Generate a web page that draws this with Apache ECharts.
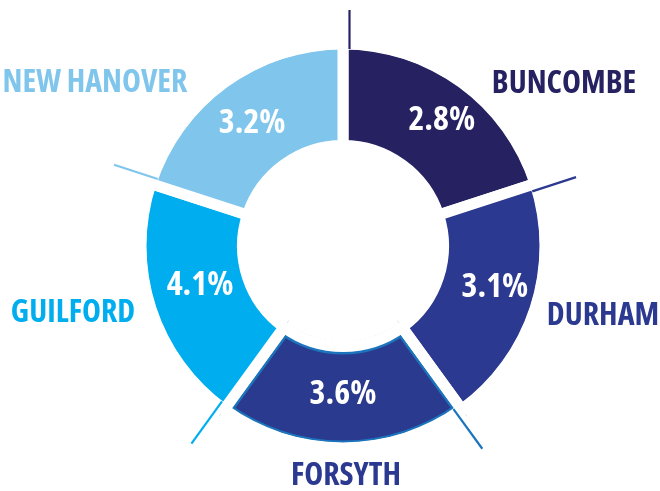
<!DOCTYPE html>
<html>
<head>
<meta charset="utf-8">
<script src="https://cdn.jsdelivr.net/npm/echarts@6/dist/echarts.min.js"></script>
<style>html,body{margin:0;padding:0;background:#fff}#c{width:660px;height:491px}</style>
</head>
<body>
<div id="c"></div>
<script>
// ---- data ----
const categories = ['BUNCOMBE', 'DURHAM', 'FORSYTH', 'GUILFORD', 'NEW HANOVER'];
const rates = [2.8, 3.1, 3.6, 4.1, 3.2];            // percent labels shown in the slices
const sliceShares = [1, 1, 1, 1, 1];                 // slices are drawn as equal sectors in the reference

// ---- styles ----
const sliceColors = ['#262262', '#2b3990', '#2a3a8f', '#00aeef', '#80c6ec'];
const nameColors  = ['#262262', '#2b3990', '#2b3990', '#00aeef', '#80c6ec'];
const lineColors  = ['#262262', '#2b3990', '#1c75bc', '#00aeef', '#80c6ec'];
const outlineColor = '#1c75bc';
const outlinedIndex = 2;
const FONT = "'Open Sans', 'Roboto', sans-serif";
const WEIGHT = 'bold condensed';   // font-stretch keyword passes through to the canvas font

const CENTER = [343, 246];
const R0 = 100.5, R1 = 202.5, GAP = 11;
const lineStart = 197, lineEnds = [236, 243, 246, 249, 243], lineOffset = 6.5;
const namePos = [[564, 84], [603, 316], [346, 476], [73, 313], [95, 83]];
const valueLabelOffsets = [[8, -1], [5, -6], [0, -6], [4, -8], [0, 2]];

const total = sliceShares.reduce((a, b) => a + b, 0);
const T = 'rgba(0,0,0,0)';

const outlineData = categories.map((c, i) => ({
  name: c, value: sliceShares[i],
  itemStyle: i === outlinedIndex
    ? { color: sliceColors[i], borderColor: outlineColor, borderWidth: GAP + 5, borderJoin: 'miter' }
    : { color: T, borderWidth: 0 }
}));

const mainData = categories.map((c, i) => ({
  name: c, value: sliceShares[i],
  itemStyle: { color: i === outlinedIndex ? T : sliceColors[i] },
  label: { offset: valueLabelOffsets[i] }
}));

const whiteData = categories.map((c, i) => ({
  name: c, value: sliceShares[i],
  itemStyle: { color: '#ffffff', borderWidth: 0 },
  label: { color: nameColors[i] }
}));

const lineSeries = [];
let acc = 0;
categories.forEach((c, i) => {
  const boundary = acc / total * 360;
  acc += sliceShares[i];
  const ang = r => boundary + Math.asin(lineOffset / r) * 180 / Math.PI;
  lineSeries.push({
    type: 'line', coordinateSystem: 'polar', z: 10, silent: true,
    symbol: 'none', animation: false,
    lineStyle: { color: lineColors[i], width: 2.2 },
    data: [[lineStart, ang(lineStart)], [lineEnds[i], ang(lineEnds[i])]]
  });
});

const common = {
  type: 'pie', center: CENTER, startAngle: 90, clockwise: true,
  silent: true, animation: false, avoidLabelOverlap: false,
  emphasis: { disabled: true }, labelLine: { show: false }
};

const option = {
  backgroundColor: '#ffffff',
  polar: { center: CENTER, radius: 260 },
  angleAxis: { type: 'value', min: 0, max: 360, startAngle: 90, clockwise: true, show: false,
               axisLine: { show: false }, splitLine: { show: false }, axisLabel: { show: false }, axisTick: { show: false } },
  radiusAxis: { type: 'value', min: 0, max: 260, show: false,
                axisLine: { show: false }, splitLine: { show: false }, axisLabel: { show: false }, axisTick: { show: false } },
  series: [
    Object.assign({}, common, { radius: [R0, R1], data: outlineData, label: { show: false } }),
    Object.assign({}, common, {
      radius: [R0, R1], data: mainData,
      itemStyle: { borderColor: '#ffffff', borderWidth: GAP, borderJoin: 'miter' },
      label: {
        show: true, position: 'inside', color: '#ffffff',
        fontFamily: FONT, fontWeight: WEIGHT, fontSize: 34,
        formatter: p => rates[p.dataIndex].toFixed(1) + '%'
      }
    }),
    Object.assign({}, common, { radius: [0, R0 - GAP / 2 + 0.5], data: whiteData, label: { show: false } }),
    Object.assign({}, common, {
      radius: [R1 - GAP / 2 - 0.5, R1 + 20], data: whiteData,
      label: {
        show: true, position: 'outside', formatter: '{b}', overflow: 'none',
        fontFamily: FONT, fontWeight: WEIGHT, fontSize: 32
      },
      labelLayout: p => ({ x: namePos[p.dataIndex][0], y: namePos[p.dataIndex][1], align: 'center', verticalAlign: 'middle' })
    })
  ].concat(lineSeries)
};

const chart = echarts.init(document.getElementById('c'), null, { renderer: 'canvas' });
chart.setOption(option);
</script>
</body>
</html>
